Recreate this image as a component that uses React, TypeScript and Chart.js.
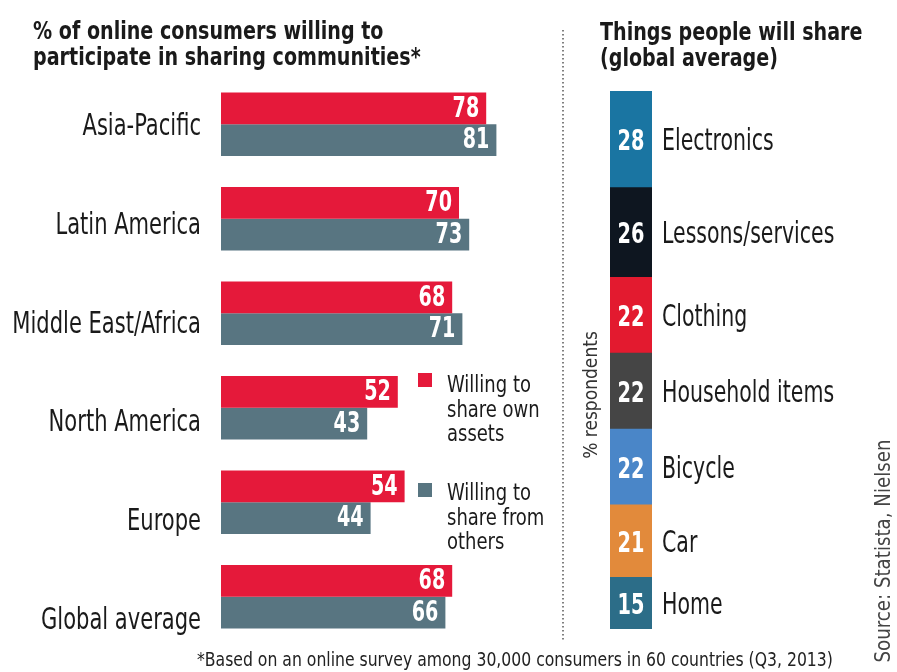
import React, { useEffect, useRef } from "react";
import { Chart, registerables } from "chart.js";

Chart.register(...registerables);

const regions = ["Asia-Pacific", "Latin America", "Middle East/Africa", "North America", "Europe", "Global average"];
const ownAssets = [78, 70, 68, 52, 54, 68];
const fromOthers = [81, 73, 71, 43, 44, 66];

const shareItems = ["Electronics", "Lessons/services", "Clothing", "Household items", "Bicycle", "Car", "Home"];
const shareValues = [28, 26, 22, 22, 22, 21, 15];
const shareColors = ["#1a75a2", "#0e1620", "#e31a2f", "#454545", "#4a86c8", "#e28a3b", "#2c6d88"];

const RED = "#e5193a";
const STEEL = "#587581";
const INK = "#1a1a1a";
const FONT = "'DejaVu Sans Condensed', 'Liberation Sans Narrow', sans-serif";

const W = 897;
const H = 672;

function txt(
  ctx: CanvasRenderingContext2D,
  s: string,
  x: number,
  y: number,
  font: string,
  color: string,
  align: CanvasTextAlign,
  sx: number,
  baseline: CanvasTextBaseline = "alphabetic"
) {
  ctx.save();
  ctx.translate(x, y);
  ctx.scale(sx, 1);
  ctx.font = font;
  ctx.fillStyle = color;
  ctx.textAlign = align;
  ctx.textBaseline = baseline;
  ctx.fillText(s, 0, 0);
  ctx.restore();
}

const leftPlugin = {
  id: "leftDecor",
  afterDraw(chart: any) {
    const ctx = chart.ctx as CanvasRenderingContext2D;
    // title
    txt(ctx, "% of online consumers willing to", 33, 39, `bold 25px ${FONT}`, INK, "left", 0.85);
    txt(ctx, "participate in sharing communities*", 33, 65, `bold 25px ${FONT}`, INK, "left", 0.85);

    // category labels
    const yScale = chart.scales.y;
    regions.forEach((r, i) => {
      txt(ctx, r, 201, yScale.getPixelForValue(i) + 11 + i * 4.2, `30px ${FONT}`, INK, "right", 0.78);
    });

    // value labels
    chart.data.datasets.forEach((ds: any, di: number) => {
      const meta = chart.getDatasetMeta(di);
      meta.data.forEach((bar: any, i: number) => {
        txt(ctx, String(ds.data[i]), bar.x - 7, bar.y + 1, `bold 28px ${FONT}`, "#ffffff", "right", 0.76, "middle");
      });
    });

    // legend
    ctx.fillStyle = RED;
    ctx.fillRect(418, 373, 14, 14);
    ctx.fillStyle = STEEL;
    ctx.fillRect(418, 483, 14, 14);
    ["Willing to", "share own", "assets"].forEach((t, i) =>
      txt(ctx, t, 447, 392 + i * 24.5, `23px ${FONT}`, INK, "left", 0.87)
    );
    ["Willing to", "share from", "others"].forEach((t, i) =>
      txt(ctx, t, 447, 500 + i * 24.5, `23px ${FONT}`, INK, "left", 0.87)
    );

    // footnote
    txt(
      ctx,
      "*Based on an online survey among 30,000 consumers in 60 countries (Q3, 2013)",
      197,
      666,
      `20px ${FONT}`,
      "#222",
      "left",
      0.87
    );
  },
};

const rightPlugin = {
  id: "rightDecor",
  afterDraw(chart: any) {
    const ctx = chart.ctx as CanvasRenderingContext2D;
    txt(ctx, "Things people will share", 40, 40, `bold 25px ${FONT}`, INK, "left", 0.85);
    txt(ctx, "(global average)", 40, 66, `bold 25px ${FONT}`, INK, "left", 0.85);

    // dotted divider
    ctx.save();
    ctx.strokeStyle = "#555";
    ctx.lineWidth = 1.5;
    ctx.setLineDash([1.5, 2.5]);
    ctx.beginPath();
    ctx.moveTo(3, 30);
    ctx.lineTo(3, 640);
    ctx.stroke();
    ctx.restore();

    // segment labels
    chart.data.datasets.forEach((ds: any, di: number) => {
      const meta = chart.getDatasetMeta(di);
      const bar = meta.data[0];
      const cy = (bar.y + bar.base) / 2;
      txt(ctx, String(ds.data[0]), bar.x, cy + 11, `bold 29px ${FONT}`, "#ffffff", "center", 0.74);
      txt(ctx, ds.label, 102, cy + 11, `30px ${FONT}`, INK, "left", 0.76);
    });

    // axis caption
    ctx.save();
    ctx.translate(32, 395);
    ctx.rotate(-Math.PI / 2);
    txt(ctx, "% respondents", 0, 0, `20px ${FONT}`, "#333", "center", 0.95, "middle");
    ctx.restore();

    // source
    ctx.save();
    ctx.translate(324, 551);
    ctx.rotate(-Math.PI / 2);
    txt(ctx, "Source: Statista, Nielsen", 0, 0, `22px ${FONT}`, "#444", "center", 0.92, "middle");
    ctx.restore();
  },
};

export default function App() {
  const leftRef = useRef<HTMLCanvasElement>(null);
  const rightRef = useRef<HTMLCanvasElement>(null);

  useEffect(() => {
    const left = new Chart(leftRef.current!, {
      type: "bar",
      data: {
        labels: regions,
        datasets: [
          { label: "Willing to share own assets", data: ownAssets, backgroundColor: RED, borderWidth: 0 },
          { label: "Willing to share from others", data: fromOthers, backgroundColor: STEEL, borderWidth: 0 },
        ],
      },
      options: {
        indexAxis: "y",
        responsive: false,
        animation: false,
        devicePixelRatio: 1,
        layout: { padding: { left: 221, right: W - 561, top: 77, bottom: H - 644 } },
        datasets: { bar: { categoryPercentage: 0.67, barPercentage: 1 } },
        scales: {
          x: { display: false, min: 0, max: 100 },
          y: { display: false },
        },
        plugins: { legend: { display: false }, tooltip: { enabled: false } },
      },
      plugins: [leftPlugin],
    } as any);

    const order = shareItems.map((_, i) => i).reverse();
    const right = new Chart(rightRef.current!, {
      type: "bar",
      data: {
        labels: ["respondents"],
        datasets: order.map((i) => ({
          label: shareItems[i],
          data: [shareValues[i]],
          backgroundColor: shareColors[i],
          borderWidth: 0,
        })),
      },
      options: {
        responsive: false,
        animation: false,
        devicePixelRatio: 1,
        layout: { padding: { left: 50, right: 337 - 92, top: 91, bottom: H - 629 } },
        datasets: { bar: { categoryPercentage: 1, barPercentage: 1 } },
        scales: {
          x: { display: false, stacked: true },
          y: { display: false, stacked: true, min: 0, max: shareValues.reduce((a, b) => a + b, 0) },
        },
        plugins: { legend: { display: false }, tooltip: { enabled: false } },
      },
      plugins: [rightPlugin],
    } as any);

    return () => {
      left.destroy();
      right.destroy();
    };
  }, []);

  return (
    <div style={{ position: "absolute", left: 0, top: 0, width: W, height: H, background: "#fff", overflow: "hidden" }}>
      <canvas ref={leftRef} width={W} height={H} style={{ position: "absolute", left: 0, top: 0, width: W, height: H }} />
      <canvas ref={rightRef} width={337} height={H} style={{ position: "absolute", left: 560, top: 0, width: 337, height: H }} />
    </div>
  );
}
